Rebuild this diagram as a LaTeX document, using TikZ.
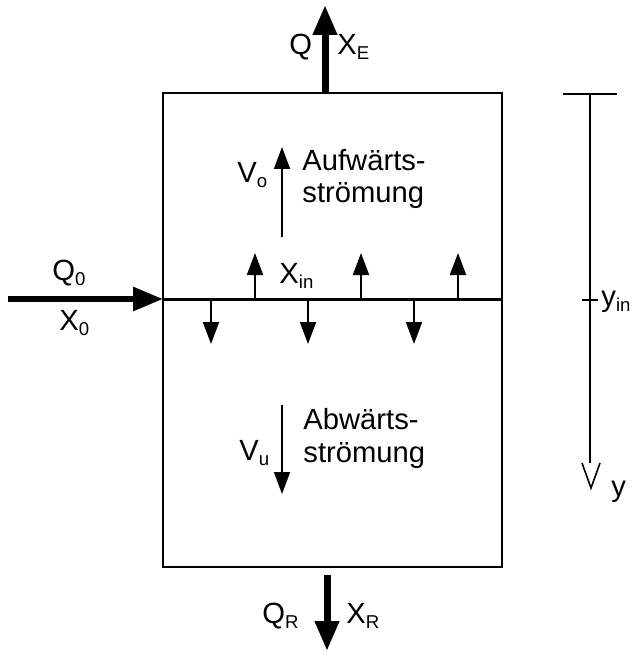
\documentclass[tikz,border=0pt]{standalone}
\usepackage{fontspec}
\setmainfont{Liberation Sans}
\usetikzlibrary{arrows.meta,positioning}
\newcommand{\idx}[1]{\raisebox{-2.5pt}{\fontsize{9.3}{9.3}\selectfont #1}}

\begin{document}
\begin{tikzpicture}[x=0.5pt, y=-0.5pt, line join=miter,
		font=\fontsize{14.6}{16.5}\selectfont,
		flow/.style={line width=3.5pt, -{Triangle[length=15pt,width=11.5pt]}},
		mix/.style={line width=1pt, -{Triangle[length=11pt,width=8pt]}},
		lbl/.style={inner sep=0pt, anchor=base west}]
		
		\useasboundingbox (0,0) rectangle (632,652);
		
		% ---------- tank ----------
		\node[draw, line width=1pt, minimum width=169.5pt, minimum height=237pt, inner sep=0pt]
		(tank) at (332.5,330) {};
		
		% top outlet
		\coordinate (outE) at (325,93);
		\coordinate (endE) at (325,5);
		\draw[flow] (outE) -- (endE);
		\node[lbl] (Q) at (289,55) {Q};
		\node[lbl] (XE) at (337,55) {X\idx{E}};
		
		% feed from the left
		\coordinate (feed) at (8,299);
		\coordinate (inL) at (163,299);
		\coordinate (inR) at (502,299);
		\draw[flow, line width=3pt] (feed) -- (inL);
		\node[lbl] (Q0) at (52,280) {Q\idx{0}};
		\node[lbl] (X0) at (59,330) {X\idx{0}};
		
		% feed plane
		\draw[line width=1.5pt] (inL) -- (inR);
		\node[lbl] (Xin) at (279,283) {X\idx{in}};
		\foreach \x in {255,361,458}
		\draw[mix] (\x,299) -- (\x,253);
		\foreach \x in {211,308,414}
		\draw[mix] (\x,299) -- (\x,344);
		
		% upflow
		\draw[mix, line width=0.8pt] (282,237) -- (282,147);
		\node[lbl] (Vo) at (237,183) {V\idx{o}};
		\node[lbl, align=left] (up) at (302,203) {Aufwärts-\\strömung};
		
		% downflow
		\draw[mix, line width=0.8pt] (282,405) -- (282,494);
		\node[lbl] (Vu) at (239,460) {V\idx{u}};
		\node[lbl, align=left] (down) at (303,462) {Abwärts-\\strömung};
		
		% bottom outlet
		\coordinate (outR) at (327,575);
		\coordinate (endR) at (327,651);
		\draw[flow] (outR) -- (endR);
		\node[lbl] (QR) at (262,623) {Q\idx{R}};
		\node[lbl] (XR) at (346,623) {X\idx{R}};
		
		% ---------- depth axis ----------
		\draw[line width=0.7pt] (563,94) -- (617,94);
		\draw[line width=0.7pt] (590,94) -- (590,463);
		\draw[line width=0.7pt] (582,300) -- (598,300);
		\draw[line width=0.8pt] (582,463) -- (591,488) -- (600,463);
		\node[lbl] (yin) at (601,306) {y\idx{in}};
		\node[lbl] (y) at (611,496) {y};
		
	\end{tikzpicture}
\end{document}
